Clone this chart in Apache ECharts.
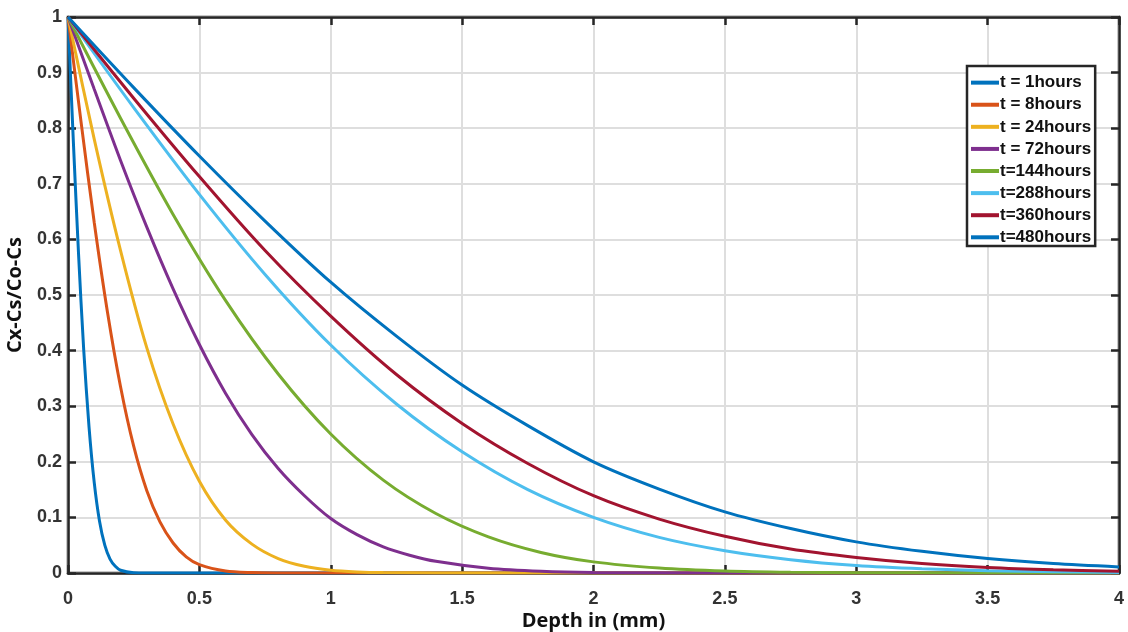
<!DOCTYPE html>
<style>body { margin: 0; }</style>
<script src="https://cdn.jsdelivr.net/npm/echarts@6/dist/echarts.min.js"></script>

<div id="chart1" style="width: 1128px; height: 632px"></div>

<script>
	// values, one x/y pair of arrays per curve
	const names = ['t = 1hours', 't = 8hours', 't = 24hours', 't = 72hours',
		't=144hours', 't=288hours', 't=360hours', 't=480hours'];
	const colors = ['#0072BD', '#D95319', '#EDB120', '#7E2F8E',
		'#77AC30', '#4DBEEE', '#A2142F', '#0072BD'];

	const x1 = [0, 0.02, 0.04, 0.06, 0.08, 0.1, 0.12, 0.14, 0.16, 0.18, 0.2, 0.25, 0.3, 1, 4];
	const y1 = [1, 0.78, 0.575, 0.40, 0.263, 0.162, 0.093, 0.05, 0.025, 0.012, 0.005, 0.0005, 0, 0, 0];

	const x8 = [0, 0.05, 0.1, 0.15, 0.2, 0.25, 0.3, 0.35, 0.4, 0.45, 0.5, 0.6, 0.7, 0.8, 1, 4];
	const y8 = [1, 0.81, 0.63, 0.47, 0.335, 0.228, 0.148, 0.092, 0.054, 0.029, 0.015, 0.0035, 0.0007, 0.0001, 0, 0];

	const x24 = [0, 0.1, 0.2, 0.3, 0.4, 0.5, 0.6, 0.7, 0.8, 0.9, 1.0, 1.1, 1.2, 1.4, 1.6, 2, 4];
	const y24 = [1, 0.78, 0.58, 0.405, 0.268, 0.165, 0.095, 0.052, 0.026, 0.012, 0.005, 0.002, 0.0007, 0.0001, 0, 0, 0];

	const x72 = [0, 0.1, 0.2, 0.3, 0.4, 0.5, 0.6, 0.7, 0.8, 0.9, 1.0, 1.1, 1.2, 1.3, 1.4, 1.6, 1.8, 2.0, 2.5, 3, 4];
	const y72 = [1, 0.87, 0.742, 0.622, 0.511, 0.411, 0.323, 0.249, 0.188, 0.139, 0.098, 0.069, 0.047, 0.032, 0.021, 0.0085, 0.003, 0.001, 0.0001, 0, 0];

	const x144 = [0, 0.2, 0.4, 0.6, 0.8, 1.0, 1.2, 1.4, 1.6, 1.8, 2.0, 2.25, 2.5, 2.75, 3.0, 3.5, 4];
	const y144 = [1, 0.818, 0.645, 0.49, 0.358, 0.25, 0.167, 0.107, 0.065, 0.037, 0.02, 0.009, 0.0036, 0.0013, 0.0005, 0.0001, 0];

	const x288 = [0, 0.25, 0.5, 0.75, 1.0, 1.25, 1.5, 1.75, 2.0, 2.25, 2.5, 2.75, 3.0, 3.25, 3.5, 3.75, 4];
	const y288 = [1, 0.837, 0.681, 0.537, 0.41, 0.304, 0.218, 0.15, 0.1, 0.064, 0.04, 0.024, 0.0135, 0.0076, 0.0041, 0.0021, 0.0011];

	const x360 = [0, 0.25, 0.5, 0.75, 1.0, 1.25, 1.5, 1.75, 2.0, 2.25, 2.5, 2.75, 3.0, 3.25, 3.5, 3.75, 4];
	const y360 = [1, 0.854, 0.713, 0.58, 0.462, 0.357, 0.269, 0.197, 0.139, 0.097, 0.066, 0.043, 0.028, 0.017, 0.01, 0.0058, 0.0033];

	const x480 = [0, 0.25, 0.5, 0.75, 1.0, 1.25, 1.5, 1.75, 2.0, 2.25, 2.5, 2.75, 3.0, 3.25, 3.5, 3.75, 4];
	const y480 = [1, 0.873, 0.75, 0.633, 0.523, 0.426, 0.338, 0.265, 0.2, 0.151, 0.11, 0.08, 0.056, 0.039, 0.026, 0.017, 0.011];

	const xs = [x1, x8, x24, x72, x144, x288, x360, x480];
	const ys = [y1, y8, y24, y72, y144, y288, y360, y480];

	var chart1 = echarts.init(document.getElementById('chart1'));

	const font = 'Liberation Sans, Arial, sans-serif';
	const nameFont = 'Open Sans, sans-serif';
	const labelStyle = {color: '#333', fontFamily: font, fontWeight: 'bold', fontSize: 18};
	const tick = {show: true, inside: true, length: 8, lineStyle: {color: '#262626', width: 2.5}};
	const edge = {show: true, onZero: false, lineStyle: {color: '#262626', width: 2.5}};
	const gridLine = {show: true, lineStyle: {color: '#dedede', width: 2}};

	var series = names.map(function (n, i) {
		return {
			name: n,
			type: 'line',
			showSymbol: false,
			smooth: 0.3,
			lineStyle: {color: colors[i], width: 3},
			itemStyle: {color: colors[i]},
			data: xs[i].map(function (x, j) { return [x, ys[i][j]]; })
		};
	});

	var option = {
		animation: false,
		backgroundColor: '#fff',
		grid: {left: 68, right: 9, top: 17, bottom: 59, containLabel: false, outerBoundsMode: 'none',
			show: true, borderColor: '#262626', borderWidth: 2.5, backgroundColor: '#fff'},
		legend: {
			orient: 'vertical', left: 967, top: 66,
			data: names,
			icon: 'rect', itemWidth: 28, itemHeight: 4, itemGap: -7.2,
			backgroundColor: '#fff', borderColor: '#262626', borderWidth: 2.5,
			padding: [2, 4, -6, 4],
			textStyle: {color: '#111', fontFamily: font, fontWeight: 'bold', fontSize: 17, padding: [0, 0, 0, -4]}
		},
		xAxis: [{
			type: 'value', min: 0, max: 4, interval: 0.5,
			name: 'Depth in (mm)', nameLocation: 'middle', nameGap: 30, nameMoveOverlap: false,
			nameTextStyle: {color: '#111', fontFamily: nameFont, fontWeight: 'bold', fontSize: 20},
			axisLine: edge,
			axisTick: tick,
			axisLabel: Object.assign({margin: 11, showMinLabel: true, showMaxLabel: true, hideOverlap: false}, labelStyle),
			splitLine: gridLine
		}, {
			type: 'value', min: 0, max: 4, interval: 0.5, position: 'top',
			axisLine: edge, axisTick: tick, axisLabel: {show: false}, splitLine: {show: false}
		}],
		yAxis: [{
			type: 'value', min: 0, max: 1, interval: 0.1,
			name: 'Cx-Cs/Co-Cs', nameLocation: 'middle', nameGap: 34, nameRotate: 90, nameMoveOverlap: false,
			nameTextStyle: {color: '#111', fontFamily: nameFont, fontWeight: 'bold', fontSize: 20},
			axisLine: edge,
			axisTick: tick,
			axisLabel: Object.assign({margin: 6, showMinLabel: true, showMaxLabel: true}, labelStyle),
			splitLine: gridLine
		}, {
			type: 'value', min: 0, max: 1, interval: 0.1, position: 'right',
			axisLine: edge, axisTick: tick, axisLabel: {show: false}, splitLine: {show: false}
		}],
		series: series
	};

	chart1.setOption(option);
</script>
